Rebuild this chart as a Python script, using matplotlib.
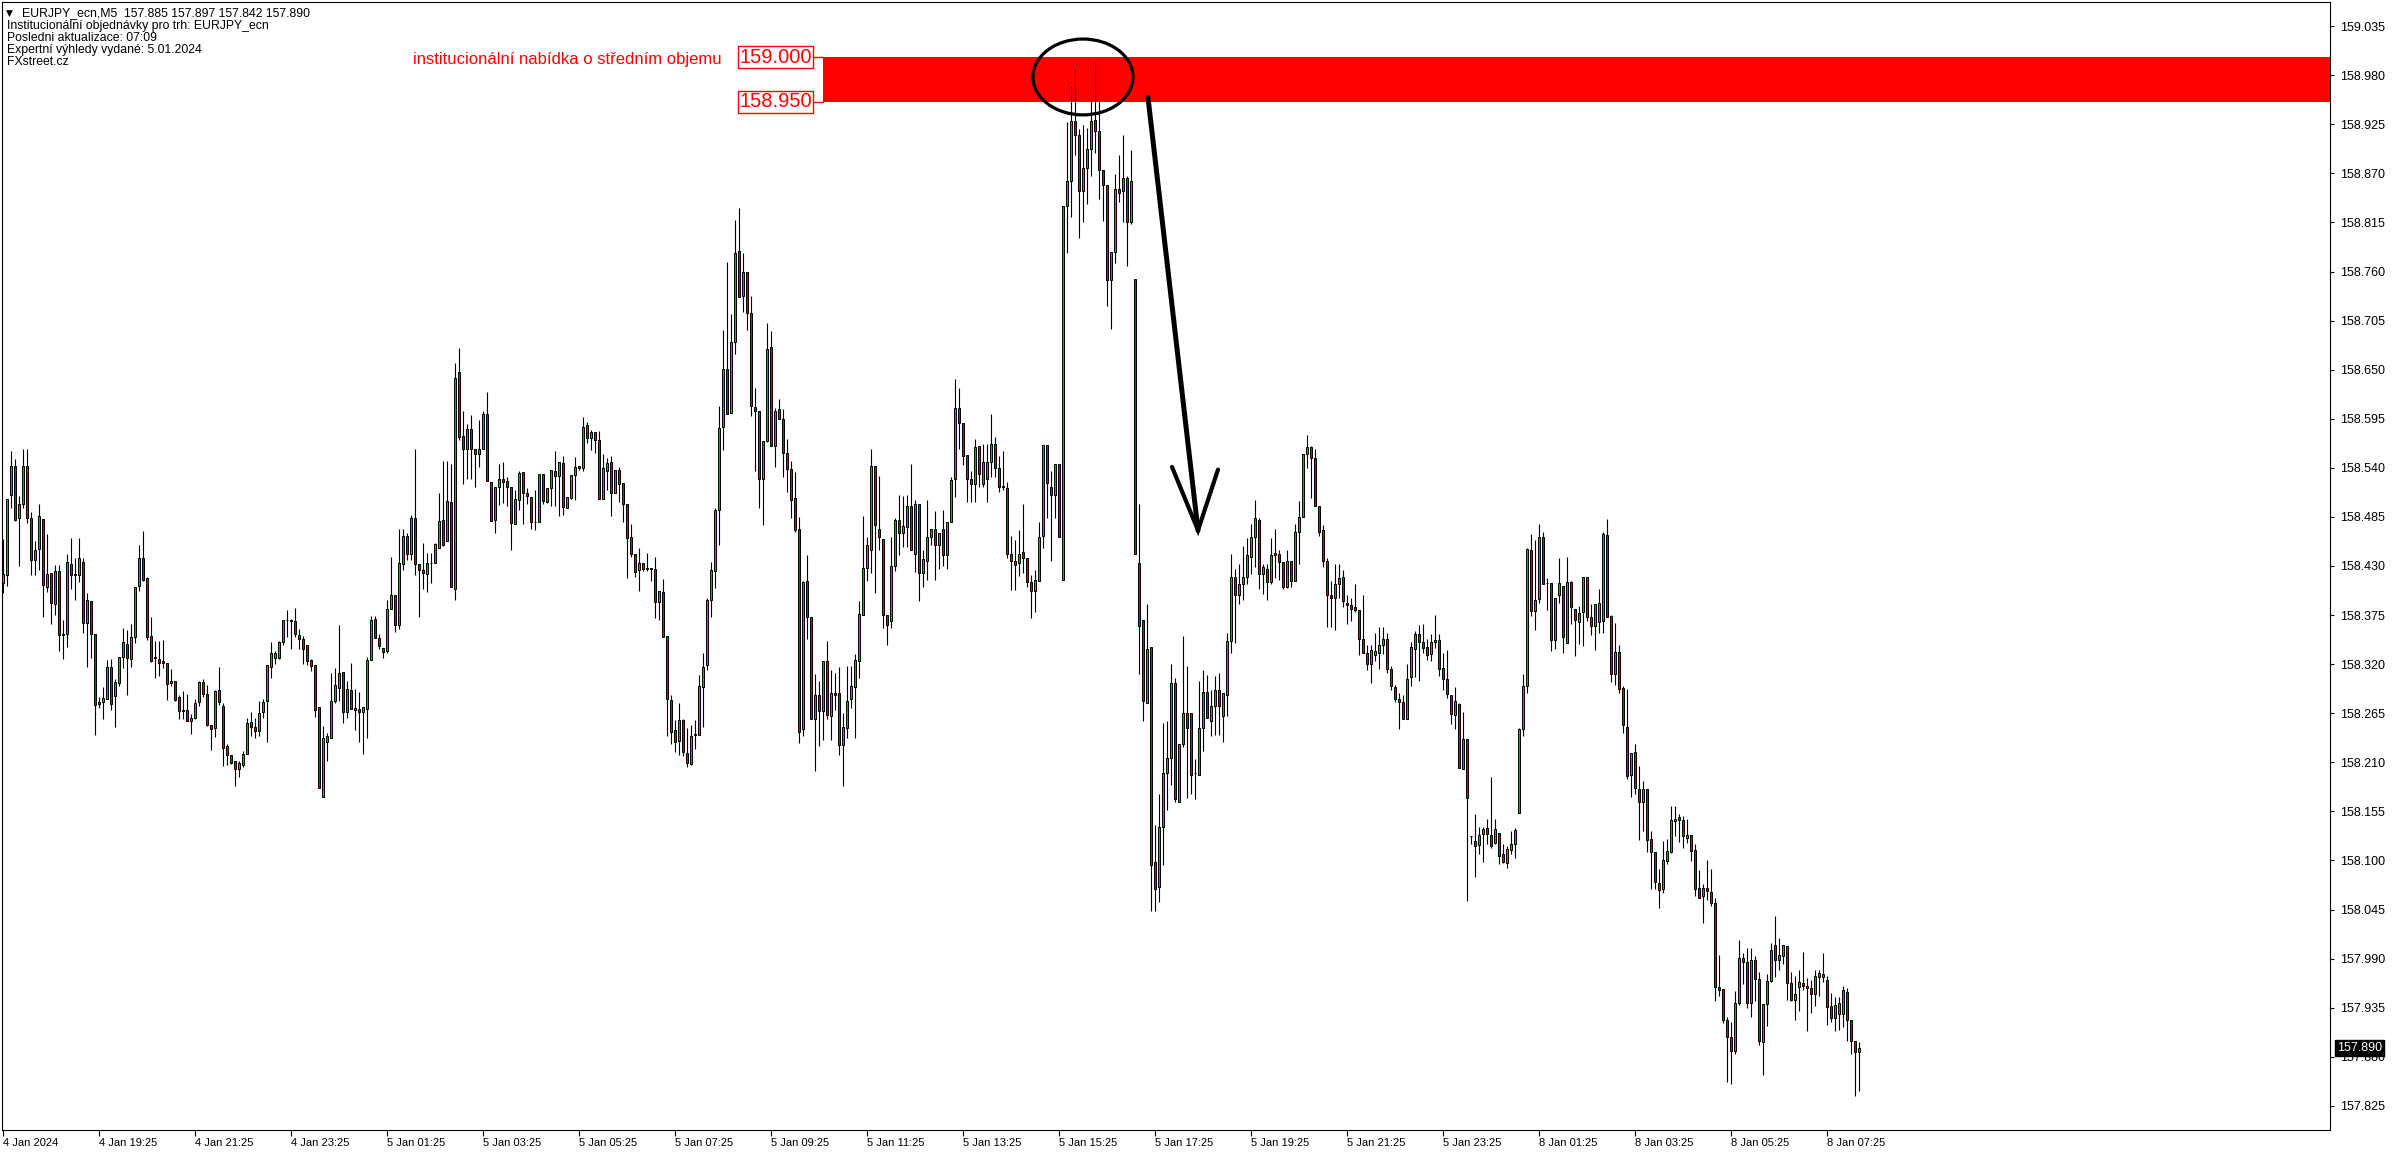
import numpy as np
import matplotlib
matplotlib.use("Agg")
import matplotlib.pyplot as plt
from matplotlib.patches import Rectangle, Ellipse

plt.rcParams['font.family'] = ['Liberation Sans', 'DejaVu Sans']

# EURJPY_ecn M5 candles, 4 Jan 17:25 .. 8 Jan 08:05
opens = [
    158.411, 158.420, 158.510, 158.542, 158.484, 158.499, 158.542, 158.484, 158.437, 158.449,
    158.483, 158.406, 158.422, 158.387, 158.424, 158.354, 158.354, 158.432, 158.421, 158.420,
    158.434, 158.366, 158.391, 158.354, 158.275, 158.278, 158.281, 158.317, 158.284, 158.299,
    158.328, 158.343, 158.326, 158.351, 158.408, 158.439, 158.416, 158.352, 158.328, 158.326,
    158.323, 158.321, 158.299, 158.301, 158.283, 158.269, 158.269, 158.256, 158.260, 158.278,
    158.300, 158.287, 158.252, 158.248, 158.291, 158.273, 158.228, 158.218, 158.212, 158.203,
    158.207, 158.219, 158.255, 158.250, 158.245, 158.266, 158.279, 158.317, 158.327, 158.327,
    158.345, 158.370, 158.369, 158.368, 158.353, 158.348, 158.341, 158.325, 158.319, 158.272,
    158.171, 158.233, 158.237, 158.279, 158.293, 158.311, 158.266, 158.291, 158.271, 158.270,
    158.266, 158.270, 158.325, 158.371, 158.349, 158.338, 158.335, 158.382, 158.397, 158.364,
    158.432, 158.464, 158.444, 158.484, 158.432, 158.425, 158.421, 158.433, 158.433, 158.450,
    158.481, 158.458, 158.502, 158.404, 158.647, 158.576, 158.561, 158.583, 158.561, 158.555,
    158.561, 158.600, 158.524, 158.482, 158.519, 158.528, 158.525, 158.518, 158.477, 158.504,
    158.535, 158.512, 158.507, 158.479, 158.479, 158.533, 158.502, 158.517, 158.537, 158.531,
    158.545, 158.495, 158.506, 158.532, 158.542, 158.540, 158.588, 158.573, 158.580, 158.571,
    158.505, 158.537, 158.546, 158.512, 158.538, 158.523, 158.500, 158.462, 158.443, 158.425,
    158.433, 158.427, 158.427, 158.427, 158.390, 158.401, 158.352, 158.280, 158.246, 158.234,
    158.257, 158.220, 158.208, 158.241, 158.241, 158.294, 158.319, 158.392, 158.424, 158.493,
    158.586, 158.651, 158.602, 158.681, 158.783, 158.732, 158.759, 158.713, 158.608, 158.604,
    158.528, 158.570, 158.675, 158.565, 158.606, 158.595, 158.557, 158.539, 158.506, 158.471,
    158.247, 158.413, 158.373, 158.259, 158.285, 158.268, 158.324, 158.262, 158.288, 158.288,
    158.229, 158.248, 158.281, 158.294, 158.323, 158.375, 158.428, 158.448, 158.542, 158.471,
    158.460, 158.375, 158.368, 158.430, 158.481, 158.467, 158.474, 158.497, 158.444, 158.500,
    158.422, 158.436, 158.462, 158.472, 158.453, 158.472, 158.442, 158.479, 158.527, 158.607,
    158.590, 158.554, 158.527, 158.522, 158.564, 158.522, 158.528, 158.547, 158.567, 158.540,
    158.519, 158.517, 158.444, 158.436, 158.433, 158.446, 158.439, 158.412, 158.402, 158.413,
    158.464, 158.566, 158.519, 158.510, 158.544, 158.414, 158.833, 158.861, 158.929, 158.913,
    158.850, 158.876, 158.897, 158.930, 158.917, 158.874, 158.857, 158.750, 158.782, 158.852,
    158.850, 158.865, 158.816, 158.752, 158.433, 158.369, 158.277, 158.339, 158.098, 158.070,
    158.137, 158.198, 158.215, 158.299, 158.166, 158.230, 158.265, 158.265, 158.198, 158.196,
    158.249, 158.289, 158.256, 158.273, 158.291, 158.262, 158.286, 158.346, 158.418, 158.397,
    158.410, 158.418, 158.440, 158.463, 158.482, 158.421, 158.427, 158.412, 158.445, 158.444,
    158.434, 158.407, 158.436, 158.413, 158.468, 158.485, 158.555, 158.563, 158.551, 158.497,
    158.470, 158.436, 158.397, 158.394, 158.410, 158.418, 158.389, 158.386, 158.384, 158.381,
    158.348, 158.333, 158.320, 158.330, 158.333, 158.341, 158.348, 158.315, 158.294, 158.281,
    158.278, 158.259, 158.306, 158.337, 158.354, 158.345, 158.339, 158.331, 158.345, 158.347,
    158.316, 158.303, 158.286, 158.263, 158.275, 158.203, 158.236, 158.128, 158.122, 158.117,
    158.130, 158.136, 158.129, 158.120, 158.131, 158.107, 158.097, 158.112, 158.119, 158.153,
    158.247, 158.296, 158.448, 158.380, 158.393, 158.463, 158.411, 158.411, 158.347, 158.398,
    158.408, 158.344, 158.412, 158.382, 158.367, 158.378, 158.418, 158.373, 158.363, 158.367,
    158.368, 158.465, 158.374, 158.309, 158.334, 158.293, 158.250, 158.196, 158.222, 158.180,
    158.166, 158.180, 158.124, 158.110, 158.075, 158.068, 158.099, 158.110, 158.144, 158.149,
    158.145, 158.125, 158.129, 158.112, 158.069, 158.060, 158.069, 158.065, 158.052, 157.958,
    157.956, 157.921, 157.902, 157.886, 157.940, 157.991, 157.986, 157.940, 157.988, 157.967,
    157.897, 157.939, 157.965, 158.005, 157.988, 157.993, 158.004, 157.963, 157.944, 157.958,
    157.963, 157.959, 157.957, 157.950, 157.970, 157.973, 157.966, 157.937, 157.923, 157.928,
    157.928, 157.953, 157.921, 157.898, 157.885,
]
highs = [
    158.460, 158.505, 158.559, 158.550, 158.509, 158.561, 158.561, 158.491, 158.458, 158.499,
    158.483, 158.466, 158.422, 158.431, 158.431, 158.370, 158.443, 158.461, 158.439, 158.461,
    158.439, 158.400, 158.391, 158.354, 158.283, 158.294, 158.325, 158.326, 158.303, 158.328,
    158.360, 158.358, 158.365, 158.406, 158.453, 158.469, 158.418, 158.373, 158.346, 158.346,
    158.347, 158.321, 158.315, 158.301, 158.286, 158.290, 158.287, 158.264, 158.281, 158.301,
    158.303, 158.297, 158.252, 158.291, 158.317, 158.276, 158.230, 158.218, 158.212, 158.212,
    158.223, 158.260, 158.266, 158.260, 158.279, 158.281, 158.319, 158.345, 158.335, 158.346,
    158.370, 158.381, 158.371, 158.383, 158.359, 158.352, 158.341, 158.326, 158.319, 158.272,
    158.251, 158.243, 158.310, 158.316, 158.364, 158.311, 158.301, 158.321, 158.292, 158.289,
    158.272, 158.328, 158.374, 158.374, 158.354, 158.338, 158.392, 158.440, 158.397, 158.472,
    158.471, 158.467, 158.487, 158.561, 158.432, 158.456, 158.445, 158.445, 158.456, 158.512,
    158.548, 158.548, 158.544, 158.658, 158.674, 158.604, 158.589, 158.599, 158.561, 158.594,
    158.604, 158.625, 158.524, 158.519, 158.544, 158.547, 158.530, 158.518, 158.515, 158.536,
    158.535, 158.517, 158.507, 158.515, 158.533, 158.533, 158.517, 158.538, 158.559, 158.546,
    158.553, 158.507, 158.532, 158.552, 158.542, 158.597, 158.591, 158.582, 158.580, 158.581,
    158.556, 158.551, 158.553, 158.538, 158.541, 158.523, 158.500, 158.477, 158.443, 158.450,
    158.433, 158.445, 158.428, 158.440, 158.402, 158.415, 158.352, 158.285, 158.257, 158.276,
    158.259, 158.249, 158.252, 158.257, 158.308, 158.333, 158.394, 158.435, 158.495, 158.609,
    158.695, 158.771, 158.712, 158.818, 158.831, 158.781, 158.759, 158.733, 158.629, 158.604,
    158.570, 158.702, 158.693, 158.607, 158.617, 158.606, 158.572, 158.548, 158.535, 158.485,
    158.413, 158.442, 158.373, 158.309, 158.301, 158.324, 158.346, 158.313, 158.310, 158.317,
    158.265, 158.318, 158.318, 158.331, 158.391, 158.486, 158.462, 158.561, 158.542, 158.531,
    158.460, 158.375, 158.462, 158.484, 158.510, 158.508, 158.510, 158.544, 158.504, 158.500,
    158.448, 158.504, 158.472, 158.492, 158.467, 158.493, 158.479, 158.530, 158.640, 158.630,
    158.590, 158.554, 158.536, 158.572, 158.564, 158.567, 158.567, 158.600, 158.574, 158.553,
    158.559, 158.524, 158.464, 158.459, 158.470, 158.500, 158.439, 158.420, 158.425, 158.479,
    158.566, 158.566, 158.536, 158.544, 158.544, 158.833, 158.927, 158.968, 158.987, 158.920,
    158.924, 158.921, 158.953, 158.994, 158.951, 158.874, 158.857, 158.782, 158.869, 158.890,
    158.913, 158.867, 158.896, 158.752, 158.499, 158.369, 158.387, 158.339, 158.140, 158.175,
    158.254, 158.256, 158.320, 158.304, 158.230, 158.352, 158.318, 158.265, 158.214, 158.301,
    158.313, 158.308, 158.291, 158.307, 158.310, 158.288, 158.355, 158.444, 158.427, 158.432,
    158.452, 158.461, 158.477, 158.504, 158.484, 158.432, 158.432, 158.461, 158.472, 158.448,
    158.434, 158.448, 158.436, 158.477, 158.503, 158.556, 158.577, 158.564, 158.561, 158.497,
    158.476, 158.439, 158.413, 158.432, 158.432, 158.426, 158.397, 158.394, 158.410, 158.381,
    158.397, 158.341, 158.341, 158.355, 158.362, 158.362, 158.355, 158.318, 158.297, 158.288,
    158.285, 158.320, 158.345, 158.357, 158.364, 158.365, 158.348, 158.354, 158.375, 158.354,
    158.332, 158.336, 158.286, 158.294, 158.276, 158.266, 158.236, 158.128, 158.152, 158.137,
    158.137, 158.147, 158.194, 158.147, 158.131, 158.118, 158.116, 158.133, 158.136, 158.249,
    158.309, 158.450, 158.466, 158.459, 158.477, 158.468, 158.416, 158.411, 158.394, 158.439,
    158.408, 158.440, 158.413, 158.382, 158.385, 158.418, 158.418, 158.387, 158.387, 158.404,
    158.468, 158.483, 158.375, 158.366, 158.341, 158.295, 158.292, 158.221, 158.230, 158.206,
    158.189, 158.180, 158.133, 158.110, 158.091, 158.122, 158.124, 158.161, 158.161, 158.152,
    158.150, 158.146, 158.129, 158.119, 158.089, 158.074, 158.101, 158.090, 158.058, 157.994,
    157.956, 157.925, 157.919, 157.954, 158.011, 157.996, 158.002, 158.002, 157.993, 157.975,
    157.939, 157.973, 158.007, 158.038, 158.013, 158.005, 158.004, 157.975, 157.971, 157.977,
    157.998, 157.968, 157.966, 157.977, 157.977, 157.996, 157.971, 157.951, 157.947, 157.947,
    157.959, 157.957, 157.921, 157.898, 157.897,
]
lows = [
    158.400, 158.408, 158.495, 158.480, 158.430, 158.495, 158.478, 158.420, 158.420, 158.426,
    158.373, 158.401, 158.365, 158.375, 158.335, 158.326, 158.339, 158.404, 158.392, 158.412,
    158.355, 158.317, 158.327, 158.241, 158.271, 158.259, 158.281, 158.269, 158.250, 158.296,
    158.316, 158.286, 158.317, 158.344, 158.402, 158.413, 158.347, 158.322, 158.305, 158.307,
    158.316, 158.280, 158.296, 158.279, 158.258, 158.258, 158.256, 158.242, 158.258, 158.273,
    158.283, 158.251, 158.224, 158.238, 158.274, 158.206, 158.207, 158.208, 158.184, 158.194,
    158.205, 158.219, 158.240, 158.237, 158.240, 158.260, 158.233, 158.304, 158.320, 158.326,
    158.342, 158.350, 158.337, 158.350, 158.337, 158.320, 158.319, 158.312, 158.261, 158.181,
    158.171, 158.212, 158.237, 158.277, 158.279, 158.254, 158.260, 158.270, 158.246, 158.233,
    158.219, 158.237, 158.325, 158.349, 158.337, 158.327, 158.333, 158.382, 158.356, 158.359,
    158.425, 158.437, 158.437, 158.420, 158.373, 158.404, 158.401, 158.411, 158.433, 158.450,
    158.452, 158.458, 158.407, 158.392, 158.571, 158.522, 158.528, 158.528, 158.518, 158.541,
    158.561, 158.525, 158.480, 158.467, 158.498, 158.501, 158.497, 158.448, 158.477, 158.493,
    158.477, 158.499, 158.471, 158.470, 158.479, 158.500, 158.501, 158.497, 158.497, 158.486,
    158.487, 158.495, 158.505, 158.504, 158.538, 158.536, 158.568, 158.560, 158.557, 158.505,
    158.505, 158.515, 158.486, 158.512, 158.502, 158.479, 158.416, 158.440, 158.418, 158.402,
    158.424, 158.424, 158.413, 158.372, 158.370, 158.351, 158.240, 158.231, 158.222, 158.218,
    158.217, 158.205, 158.207, 158.225, 158.241, 158.250, 158.313, 158.373, 158.405, 158.453,
    158.560, 158.600, 158.601, 158.668, 158.731, 158.715, 158.694, 158.598, 158.536, 158.495,
    158.476, 158.569, 158.565, 158.541, 158.595, 158.530, 158.513, 158.484, 158.468, 158.232,
    158.239, 158.348, 158.259, 158.200, 158.228, 158.235, 158.258, 158.235, 158.269, 158.218,
    158.184, 158.237, 158.271, 158.237, 158.305, 158.375, 158.413, 158.422, 158.400, 158.448,
    158.360, 158.341, 158.360, 158.424, 158.442, 158.451, 158.451, 158.448, 158.423, 158.391,
    158.407, 158.414, 158.453, 158.414, 158.427, 158.430, 158.427, 158.479, 158.507, 158.561,
    158.543, 158.502, 158.502, 158.502, 158.519, 158.519, 158.502, 158.530, 158.530, 158.513,
    158.515, 158.439, 158.403, 158.403, 158.419, 158.422, 158.407, 158.372, 158.379, 158.413,
    158.450, 158.484, 158.436, 158.484, 158.462, 158.414, 158.781, 158.821, 158.890, 158.797,
    158.816, 158.836, 158.867, 158.893, 158.841, 158.817, 158.721, 158.696, 158.770, 158.838,
    158.816, 158.766, 158.813, 158.444, 158.309, 158.256, 158.277, 158.043, 158.043, 158.054,
    158.095, 158.157, 158.185, 158.166, 158.166, 158.227, 158.170, 158.175, 158.169, 158.196,
    158.223, 158.260, 158.239, 158.241, 158.241, 158.233, 158.262, 158.333, 158.344, 158.387,
    158.392, 158.410, 158.421, 158.429, 158.404, 158.399, 158.392, 158.410, 158.416, 158.414,
    158.404, 158.405, 158.407, 158.413, 158.432, 158.485, 158.540, 158.506, 158.497, 158.464,
    158.429, 158.362, 158.362, 158.358, 158.394, 158.384, 158.365, 158.368, 158.378, 158.330,
    158.333, 158.313, 158.299, 158.323, 158.315, 158.331, 158.310, 158.291, 158.278, 158.247,
    158.259, 158.259, 158.295, 158.306, 158.301, 158.333, 158.325, 158.323, 158.338, 158.307,
    158.291, 158.282, 158.253, 158.247, 158.204, 158.203, 158.055, 158.118, 158.082, 158.107,
    158.098, 158.119, 158.114, 158.119, 158.096, 158.097, 158.092, 158.107, 158.103, 158.153,
    158.240, 158.288, 158.374, 158.358, 158.389, 158.410, 158.381, 158.335, 158.337, 158.388,
    158.333, 158.344, 158.365, 158.329, 158.343, 158.340, 158.368, 158.353, 158.336, 158.355,
    158.355, 158.373, 158.300, 158.297, 158.288, 158.243, 158.191, 158.171, 158.175, 158.123,
    158.133, 158.109, 158.068, 158.068, 158.047, 158.064, 158.096, 158.108, 158.127, 158.121,
    158.114, 158.120, 158.099, 158.060, 158.058, 158.030, 158.056, 158.049, 157.943, 157.948,
    157.918, 157.852, 157.850, 157.883, 157.938, 157.962, 157.935, 157.925, 157.942, 157.893,
    157.860, 157.915, 157.964, 157.969, 157.977, 157.984, 157.944, 157.943, 157.921, 157.931,
    157.955, 157.909, 157.929, 157.937, 157.948, 157.964, 157.916, 157.919, 157.909, 157.910,
    157.913, 157.898, 157.883, 157.836, 157.842,
]
closes = [
    158.421, 158.505, 158.542, 158.481, 158.499, 158.542, 158.484, 158.437, 158.448, 158.486,
    158.409, 158.421, 158.388, 158.424, 158.353, 158.353, 158.434, 158.420, 158.420, 158.439,
    158.366, 158.392, 158.354, 158.274, 158.278, 158.282, 158.317, 158.275, 158.300, 158.328,
    158.345, 158.327, 158.351, 158.406, 158.439, 158.414, 158.351, 158.324, 158.327, 158.321,
    158.321, 158.298, 158.301, 158.280, 158.268, 158.268, 158.256, 158.260, 158.277, 158.300,
    158.287, 158.252, 158.247, 158.290, 158.278, 158.226, 158.218, 158.209, 158.202, 158.209,
    158.219, 158.254, 158.250, 158.245, 158.265, 158.278, 158.319, 158.332, 158.332, 158.345,
    158.370, 158.369, 158.368, 158.354, 158.348, 158.337, 158.324, 158.318, 158.269, 158.181,
    158.237, 158.239, 158.279, 158.297, 158.310, 158.266, 158.292, 158.270, 158.269, 158.266,
    158.272, 158.325, 158.369, 158.349, 158.340, 158.334, 158.382, 158.397, 158.364, 158.433,
    158.464, 158.444, 158.484, 158.432, 158.425, 158.422, 158.433, 158.433, 158.455, 158.480,
    158.453, 158.503, 158.407, 158.641, 158.574, 158.561, 158.583, 158.561, 158.555, 158.561,
    158.600, 158.525, 158.480, 158.519, 158.527, 158.524, 158.518, 158.478, 158.505, 158.534,
    158.512, 158.508, 158.479, 158.479, 158.533, 158.503, 158.517, 158.538, 158.531, 158.546,
    158.496, 158.507, 158.532, 158.541, 158.540, 158.586, 158.573, 158.580, 158.571, 158.505,
    158.540, 158.545, 158.512, 158.538, 158.522, 158.500, 158.461, 158.443, 158.423, 158.433,
    158.427, 158.427, 158.427, 158.390, 158.402, 158.351, 158.281, 158.244, 158.233, 158.257,
    158.222, 158.209, 158.239, 158.241, 158.296, 158.317, 158.392, 158.426, 158.493, 158.585,
    158.651, 158.600, 158.681, 158.781, 158.731, 158.759, 158.714, 158.609, 158.604, 158.528,
    158.570, 158.673, 158.565, 158.604, 158.595, 158.557, 158.539, 158.504, 158.470, 158.244,
    158.412, 158.373, 158.259, 158.285, 158.268, 158.324, 158.263, 158.288, 158.286, 158.229,
    158.250, 158.279, 158.295, 158.325, 158.376, 158.428, 158.453, 158.542, 158.476, 158.462,
    158.375, 158.364, 158.430, 158.482, 158.467, 158.475, 158.497, 158.448, 158.500, 158.422,
    158.438, 158.463, 158.472, 158.453, 158.467, 158.442, 158.479, 158.526, 158.607, 158.590,
    158.553, 158.527, 158.522, 158.563, 158.533, 158.547, 158.547, 158.567, 158.540, 158.519,
    158.519, 158.444, 158.436, 158.431, 158.444, 158.439, 158.412, 158.402, 158.414, 158.463,
    158.566, 158.523, 158.510, 158.544, 158.462, 158.833, 158.861, 158.929, 158.913, 158.850,
    158.876, 158.897, 158.929, 158.917, 158.874, 158.857, 158.750, 158.782, 158.852, 158.848,
    158.865, 158.816, 158.861, 158.444, 158.363, 158.279, 158.337, 158.095, 158.068, 158.137,
    158.198, 158.215, 158.299, 158.169, 158.230, 158.265, 158.249, 158.196, 158.198, 158.248,
    158.289, 158.260, 158.273, 158.291, 158.273, 158.288, 158.346, 158.418, 158.397, 158.410,
    158.418, 158.442, 158.463, 158.484, 158.421, 158.429, 158.412, 158.442, 158.442, 158.434,
    158.407, 158.436, 158.413, 158.468, 158.485, 158.555, 158.563, 158.551, 158.497, 158.468,
    158.436, 158.397, 158.394, 158.410, 158.416, 158.391, 158.386, 158.382, 158.381, 158.348,
    158.333, 158.320, 158.336, 158.335, 158.341, 158.348, 158.315, 158.296, 158.281, 158.278,
    158.259, 158.303, 158.339, 158.354, 158.345, 158.338, 158.330, 158.345, 158.347, 158.315,
    158.303, 158.287, 158.264, 158.279, 158.204, 158.236, 158.170, 158.127, 158.116, 158.129,
    158.135, 158.130, 158.116, 158.135, 158.105, 158.098, 158.113, 158.119, 158.134, 158.247,
    158.296, 158.449, 158.380, 158.392, 158.463, 158.410, 158.411, 158.347, 158.394, 158.411,
    158.350, 158.412, 158.384, 158.369, 158.377, 158.418, 158.373, 158.363, 158.387, 158.388,
    158.466, 158.373, 158.309, 158.334, 158.292, 158.252, 158.195, 158.221, 158.181, 158.166,
    158.180, 158.123, 158.109, 158.076, 158.067, 158.100, 158.111, 158.145, 158.147, 158.145,
    158.128, 158.129, 158.111, 158.068, 158.058, 158.069, 158.066, 158.052, 157.958, 157.955,
    157.921, 157.902, 157.886, 157.940, 157.991, 157.986, 157.940, 157.988, 157.967, 157.898,
    157.939, 157.965, 158.000, 157.988, 157.994, 158.005, 157.963, 157.944, 157.950, 157.964,
    157.959, 157.957, 157.950, 157.971, 157.974, 157.969, 157.936, 157.924, 157.938, 157.940,
    157.955, 157.921, 157.898, 157.885, 157.890,
]

time_labels = ["4 Jan 2024", "4 Jan 19:25", "4 Jan 21:25", "4 Jan 23:25",
               "5 Jan 01:25", "5 Jan 03:25", "5 Jan 05:25", "5 Jan 07:25",
               "5 Jan 09:25", "5 Jan 11:25", "5 Jan 13:25", "5 Jan 15:25",
               "5 Jan 17:25", "5 Jan 19:25", "5 Jan 21:25", "5 Jan 23:25",
               "8 Jan 01:25", "8 Jan 03:25", "8 Jan 05:25", "8 Jan 07:25"]
bars_per_label = 24
price_ticks = [159.035, 158.980, 158.925, 158.870, 158.815, 158.760, 158.705,
               158.650, 158.595, 158.540, 158.485, 158.430, 158.375, 158.320,
               158.265, 158.210, 158.155, 158.100, 158.045, 157.990, 157.935,
               157.880, 157.825]

zone_low, zone_high = 158.950, 159.000
zone_start = 205          # bar index where the drawn zone begins
zone_text = "institucionální nabídka o středním objemu"
header_lines = ["EURJPY_ecn,M5  157.885 157.897 157.842 157.890",
                "Institucionální objednávky pro trh: EURJPY_ecn",
                "Posledni aktualizace: 07:09",
                "Expertní výhledy vydané: 5.01.2024",
                "FXstreet.cz"]

W, H = 2396, 1154
fig = plt.figure(figsize=(W / 100, H / 100), dpi=100)
ax = fig.add_axes([2 / W, (H - 1130) / H, 2328 / W, 1128 / H])
xmin, xmax = -0.25, 581.75
ax.set_xlim(xmin, xmax)
ax.set_ylim(157.798, 159.062)

o = np.array(opens); h = np.array(highs); l = np.array(lows); c = np.array(closes)
x = np.arange(len(c))
up = c >= o
body_lo = np.minimum(o, c)
body_h = np.maximum(np.abs(c - o), 0.0004)

ax.vlines(x, l, h, color='black', lw=0.8, zorder=2)
ax.bar(x, body_h, bottom=body_lo, width=0.72,
       color=np.where(up, '#2ea62e', '#e60000'), edgecolor='black',
       linewidth=0.7, zorder=3)

# supply zone
ax.add_patch(Rectangle((zone_start, zone_low), xmax - zone_start, zone_high - zone_low,
                       facecolor='#ff0000', edgecolor='none', zorder=1))
for lvl in (zone_high, zone_low):
    ax.plot([zone_start - 2.6, zone_start], [lvl, lvl], color='#ff0000', lw=1, zorder=1)
    ax.text(zone_start - 2.8, lvl, f"{lvl:.3f}", color='#ff0000', fontsize=14.5,
            ha='right', va='center', zorder=4,
            bbox=dict(boxstyle='square,pad=0.08', fc='white', ec='#ff0000', lw=1))
ax.text(179.75, 158.998, zone_text, color='#ff0000', fontsize=12,
        ha='right', va='center')

# hand drawn marks
ax.add_patch(Ellipse((270, 158.978), 25, 0.085, fill=False, ec='black', lw=2.3, zorder=5))
ax.plot([286.25, 298.75], [158.955, 158.470], color='black', lw=3.6,
        solid_capstyle='round', zorder=5)
ax.plot([292.25, 298.75, 303.75], [158.541, 158.470, 158.538], color='black', lw=3.0,
        solid_capstyle='round', solid_joinstyle='miter', zorder=5)

# axes styling
for s in ax.spines.values():
    s.set_color('black')
    s.set_linewidth(0.8)
ax.yaxis.tick_right()
ax.set_yticks(price_ticks)
ax.set_yticklabels([f"{t:.3f}" for t in price_ticks])
ax.tick_params(axis='y', direction='out', length=3, width=0.8, pad=4, labelsize=9)
ax.set_xticks(np.arange(len(time_labels)) * bars_per_label)
ax.set_xticklabels(time_labels)
ax.tick_params(axis='x', direction='out', length=4, width=0.8, pad=2, labelsize=8)
for lab in ax.get_xticklabels():
    lab.set_horizontalalignment('left')

ax.annotate(f"{closes[-1]:.3f}", xy=(1, closes[-1]), xycoords=('axes fraction', 'data'),
            xytext=(5, 0), textcoords='offset points', ha='left', va='center',
            fontsize=9, color='white', zorder=6, annotation_clip=False,
            bbox=dict(boxstyle='square,pad=0.15', fc='black', ec='black'))

# header text
fig.text(6 / W, 1 - 13 / H, "\u25bc", fontsize=6.5, va='center', ha='left',
         family=['DejaVu Sans'])
fig.text(22 / W, 1 - 13 / H, header_lines[0], fontsize=8.8, va='center', ha='left')
for k, line in enumerate(header_lines[1:]):
    fig.text(7 / W, 1 - (25.5 + 12.2 * k) / H, line, fontsize=8.8, va='center', ha='left')

fig.savefig("out.png", dpi=100)
